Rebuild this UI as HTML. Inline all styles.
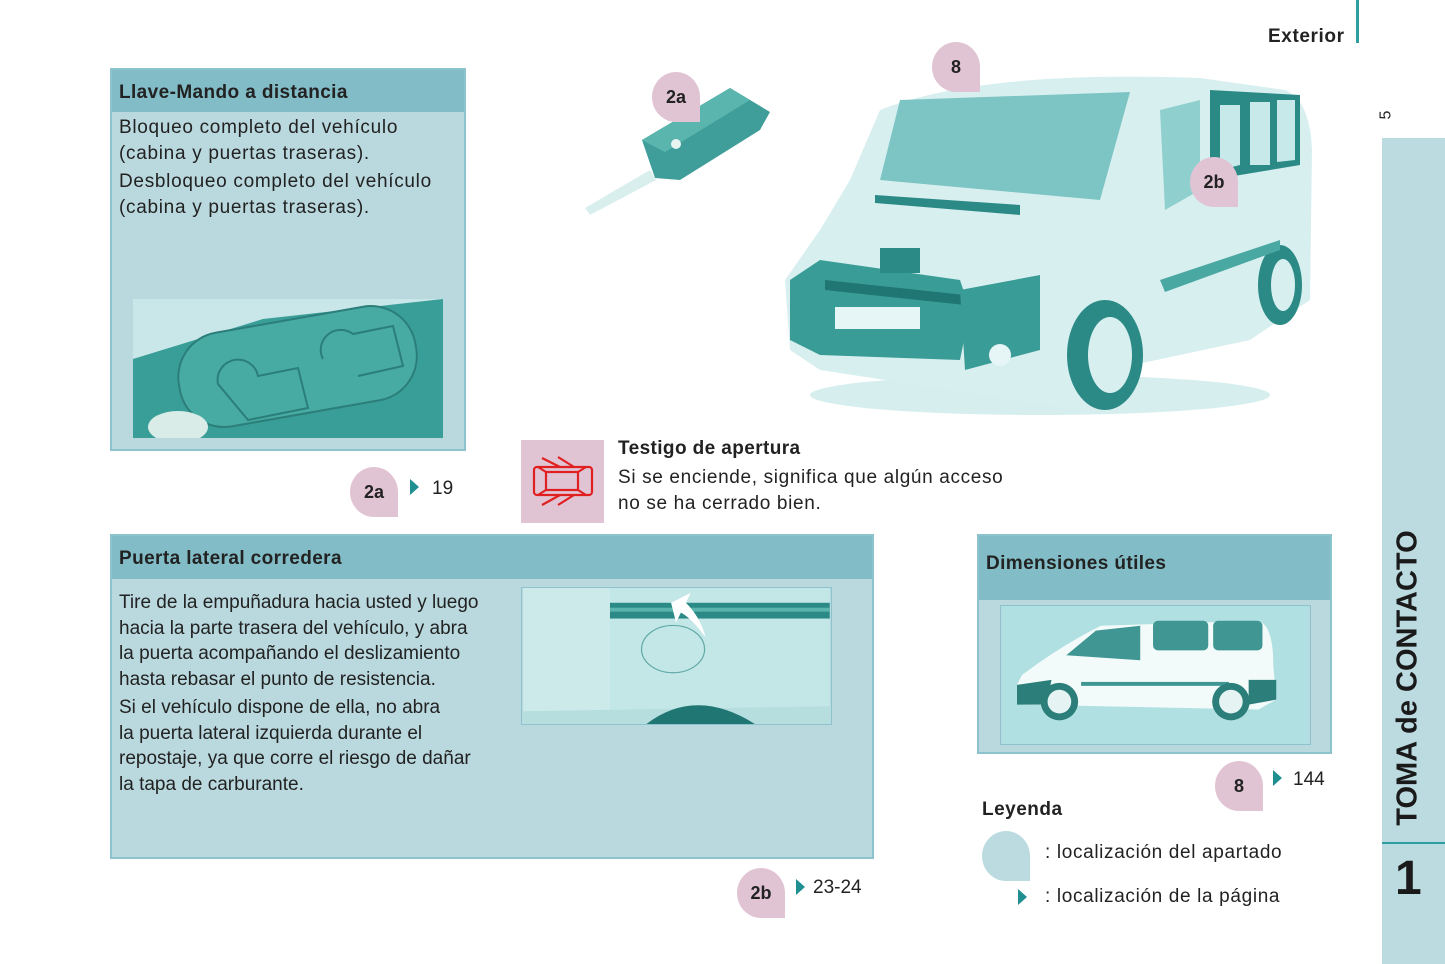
<!DOCTYPE html>
<html><head><meta charset="utf-8"><style>
*{margin:0;padding:0;box-sizing:border-box}
body{width:1445px;height:964px;position:relative;background:#fff;font-family:"Liberation Sans",Arial,sans-serif;color:#222;overflow:hidden}
.abs{position:absolute}
.box{position:absolute;background:#bad9df;border:2px solid #8cc3cc}
.hdr{position:absolute;left:0;right:0;top:0;background:#82bcc6;font-weight:bold;font-size:19px;padding-left:7px;letter-spacing:0.4px}
.txt{font-size:19px;line-height:25.5px;letter-spacing:0.2px}
.badge{position:absolute;width:48px;height:50px;background:#e1c4d3;border-radius:50% 50% 0 50%;font-weight:bold;font-size:18px;display:flex;align-items:center;justify-content:center;color:#222}
.tri{position:absolute;width:0;height:0;border-top:8px solid transparent;border-bottom:8px solid transparent;border-left:9px solid #1f8f92}
.pg{position:absolute;font-size:19px}
</style></head><body>

<div class="abs" style="left:1268px;top:26px;font-weight:bold;font-size:19px;letter-spacing:0.6px">Exterior</div>
<div class="abs" style="left:1356px;top:0;width:3px;height:43px;background:#2f9ea3"></div>
<div class="abs" style="left:1382px;top:106px;font-size:16px;transform:rotate(-90deg)">5</div>
<div class="abs" style="left:1382px;top:138px;width:63px;height:826px;background:#bcdbe1"></div>
<div class="abs" style="left:1382px;top:842px;width:63px;height:2px;background:#2f9ea3"></div>
<div class="abs" style="left:1408px;top:678px;width:0;height:0">
 <div style="position:absolute;left:0;top:0;transform:translate(-50%,-50%) rotate(-90deg);white-space:nowrap;font-weight:bold;font-size:29px;color:#1a1a1a">TOMA de CONTACTO</div>
</div>
<div class="abs" style="left:1395px;top:851px;font-weight:bold;font-size:48px;color:#1a1a1a">1</div>

<!-- Llave box -->
<div class="box" style="left:110px;top:68px;width:356px;height:383px">
 <div class="hdr" style="height:42px;line-height:46px">Llave-Mando a distancia</div>
 <div class="txt abs" style="left:7px;top:45px;letter-spacing:0.7px">Bloqueo completo del vehículo<br>(cabina y puertas traseras).</div>
 <div class="txt abs" style="left:7px;top:99px;letter-spacing:0.7px">Desbloqueo completo del vehículo<br>(cabina y puertas traseras).</div>
 <svg class="abs" style="left:21px;top:229px" width="310" height="139" viewBox="0 0 310 139">
  <rect width="310" height="139" fill="#c9e6e8"/>
  <polygon points="0,60 130,20 310,0 310,139 0,139" fill="#3a9e98"/>
  <rect x="45" y="20" width="240" height="95" rx="45" fill="#47aaa3" stroke="#2b7e7a" stroke-width="2" transform="rotate(-10 165 70)"/>
  <path d="M85 85 a20 20 0 0 1 40 -8 l40 -8 l10 40 l-60 12 z" fill="none" stroke="#2b7e7a" stroke-width="2"/>
  <path d="M190 60 a20 20 0 0 1 30 -25 l40 -8 l10 40 l-45 10" fill="none" stroke="#2b7e7a" stroke-width="2"/>
  <ellipse cx="45" cy="128" rx="30" ry="16" fill="#d9ece8"/>
 </svg>
</div>

<div class="badge" style="left:350px;top:467px">2a</div>
<div class="tri" style="left:410px;top:479px"></div>
<div class="pg" style="left:432px;top:478px">19</div>

<!-- key -->
<svg class="abs" style="left:580px;top:80px" width="200" height="140" viewBox="0 0 200 140">
 <polygon points="5,128 70,90 76,100 10,135" fill="#d8efee"/>
 <polygon points="62,60 150,8 190,32 180,50 100,100 75,98" fill="#3f9e9a"/>
 <polygon points="62,60 150,8 170,20 85,72" fill="#5ab5ae"/>
 <circle cx="96" cy="64" r="5" fill="#e8f4f2"/>
</svg>
<div class="badge" style="left:652px;top:72px">2a</div>

<!-- van -->
<svg class="abs" style="left:780px;top:70px" width="540" height="350" viewBox="0 0 540 350">
 <ellipse cx="260" cy="325" rx="230" ry="20" fill="#d6efee"/>
 <path d="M100 40 Q200 0 420 8 L505 20 Q530 30 532 80 L530 230 L500 250 L470 270 L330 300 L320 330 L300 340 L170 320 L40 300 L10 280 L5 210 L40 160 L70 110 Z" fill="#d8eff0"/>
 <path d="M120 30 L350 22 L320 130 L100 110 Z" fill="#7cc5c4"/>
 <path d="M430 20 L520 25 L520 95 L430 110 Z" fill="#2b8a86"/>
 <path d="M440 35 L460 35 L460 95 L440 100Z M470 32 L490 32 L490 95 L470 95Z M497 30 L515 30 L515 90 L497 92Z" fill="#c8e9ea"/>
 <path d="M380 40 L420 30 L420 120 L385 140 Z" fill="#8fd0ce"/>
 <path d="M10 210 L40 190 L180 210 L190 240 L180 290 L40 285 L10 270 Z" fill="#3a9c97"/>
 <rect x="55" y="237" width="85" height="22" fill="#e6f5f5"/>
 <path d="M45 210 L185 225 L185 235 L45 220 Z" fill="#1f7673"/>
 <path d="M180 220 L260 205 L260 280 L185 300 Z" fill="#3a9c97"/>
 <circle cx="220" cy="285" r="11" fill="#e6f5f5"/>
 <ellipse cx="325" cy="285" rx="38" ry="55" fill="#2b8a86"/>
 <ellipse cx="330" cy="285" rx="22" ry="38" fill="#d8eff0"/>
 <ellipse cx="500" cy="215" rx="22" ry="40" fill="#2b8a86"/>
 <ellipse cx="503" cy="215" rx="12" ry="26" fill="#d8eff0"/>
 <rect x="100" y="178" width="40" height="25" fill="#2b8a86"/>
 <path d="M380 210 L500 170 L500 180 L385 222 Z" fill="#4aa8a3"/>
 <path d="M95 125 L240 135 L240 145 L95 133 Z" fill="#2b8a86"/>
</svg>
<div class="badge" style="left:932px;top:42px">8</div>
<div class="badge" style="left:1190px;top:157px">2b</div>

<!-- Testigo -->
<div class="abs" style="left:521px;top:440px;width:83px;height:83px;background:#e1c4d3"></div>
<svg class="abs" style="left:530px;top:455px" width="66" height="52" viewBox="0 0 66 52" fill="none" stroke="#e02020" stroke-width="2.2">
 <rect x="4" y="12" width="58" height="28" rx="3"/><rect x="16" y="17" width="32" height="18"/>
 <path d="M8 12 L16 17 M56 12 L48 17 M8 40 L16 35 M56 40 L48 35 M12 3 L30 12 M28 2 L44 12 M12 50 L30 40 M28 50 L44 40"/>
</svg>
<div class="abs" style="left:618px;top:438px;font-weight:bold;font-size:19px;letter-spacing:0.4px">Testigo de apertura</div>
<div class="txt abs" style="left:618px;top:465px;letter-spacing:0.65px">Si se enciende, significa que algún acceso<br>no se ha cerrado bien.</div>

<!-- Puerta box -->
<div class="box" style="left:110px;top:534px;width:764px;height:325px">
 <div class="hdr" style="height:43px;line-height:46px">Puerta lateral corredera</div>
 <div class="txt abs" style="left:7px;top:54px;letter-spacing:0">Tire de la empuñadura hacia usted y luego<br>hacia la parte trasera del vehículo, y abra<br>la puerta acompañando el deslizamiento<br>hasta rebasar el punto de resistencia.</div>
 <div class="txt abs" style="left:7px;top:159px;letter-spacing:0">Si el vehículo dispone de ella, no abra<br>la puerta lateral izquierda durante el<br>repostaje, ya que corre el riesgo de dañar<br>la tapa de carburante.</div>
 <svg class="abs" style="left:409px;top:51px;border:1px solid #8cc3cc" width="311" height="138" viewBox="0 0 311 138">
  <rect width="311" height="138" fill="#c3e6e7"/>
  <rect width="88" height="138" fill="#cdeaea"/>
  <rect x="88" y="15" width="223" height="16" fill="#2b8a86"/>
  <rect x="88" y="20" width="223" height="4" fill="#5bb3ae"/>
  <ellipse cx="152" cy="62" rx="32" ry="24" fill="none" stroke="#5fa9a6" stroke-width="1.2"/>
  <path d="M0 125 L311 120 L311 138 L0 138Z" fill="#b6dede"/>
  <path d="M125 138 Q175 100 235 138 Z" fill="#1f7673"/>
  <path d="M150 15 L170 5 L165 15 Q180 30 185 50 Q170 30 160 25 L155 35 Z" fill="#fff"/>
 </svg>
</div>
<div class="badge" style="left:737px;top:868px">2b</div>
<div class="tri" style="left:796px;top:879px"></div>
<div class="pg" style="left:813px;top:877px">23-24</div>

<!-- Dimensiones -->
<div class="box" style="left:977px;top:534px;width:355px;height:220px">
 <div class="hdr" style="height:64px;line-height:56px">Dimensiones útiles</div>
 <svg class="abs" style="left:21px;top:69px;border:1px solid #8cc3cc" width="311" height="140" viewBox="0 0 311 140">
  <rect width="311" height="140" fill="#b0e0e1"/>
  <path d="M20 70 Q60 40 100 20 L260 15 Q275 20 275 60 L278 95 L260 105 L20 100 L15 80 Z" fill="#f2fafa"/>
  <path d="M65 50 L95 25 L140 20 L140 55 Z" fill="#3f9692"/>
  <rect x="153" y="15" width="56" height="30" rx="5" fill="#3f9692"/>
  <rect x="214" y="15" width="50" height="30" rx="5" fill="#3f9692"/>
  <rect x="80" y="77" width="150" height="4" fill="#3f9692"/>
  <path d="M15 80 L50 75 L45 100 L15 100Z M250 75 L278 75 L278 95 L250 100Z" fill="#2b7e7a"/>
  <circle cx="58" cy="97" r="19" fill="#2b7e7a"/><circle cx="58" cy="97" r="12" fill="#e6f3f3"/>
  <circle cx="232" cy="97" r="19" fill="#2b7e7a"/><circle cx="232" cy="97" r="12" fill="#e6f3f3"/>
 </svg>
</div>
<div class="badge" style="left:1215px;top:761px">8</div>
<div class="tri" style="left:1273px;top:770px"></div>
<div class="pg" style="left:1293px;top:769px">144</div>

<div class="abs" style="left:982px;top:799px;font-weight:bold;font-size:19px;letter-spacing:0.5px">Leyenda</div>
<div class="badge" style="left:982px;top:831px;background:#bcdbe1"></div>
<div class="abs" style="left:1045px;top:842px;font-size:19px;letter-spacing:0.65px">: localización del apartado</div>
<div class="tri" style="left:1018px;top:889px"></div>
<div class="abs" style="left:1045px;top:886px;font-size:19px;letter-spacing:0.65px">: localización de la página</div>
</body></html>
